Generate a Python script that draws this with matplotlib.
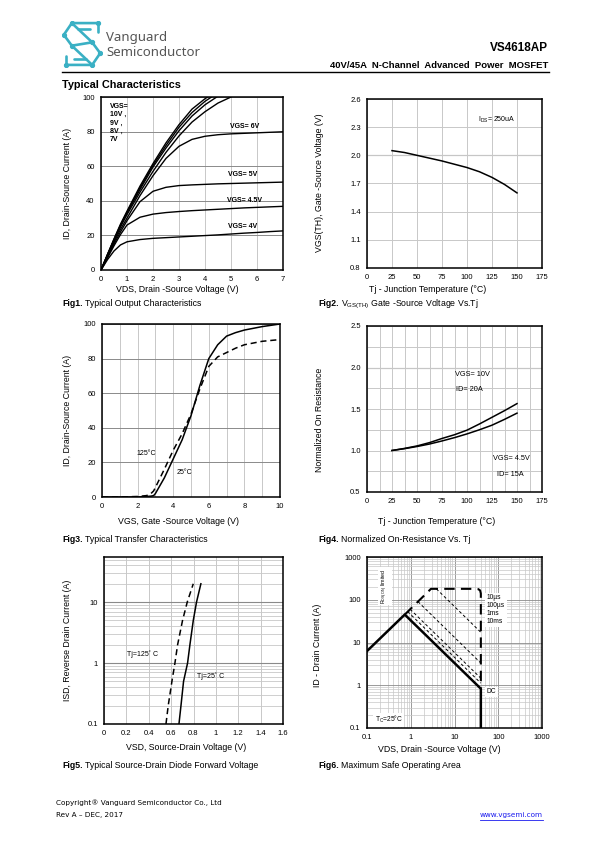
import matplotlib
matplotlib.use('Agg')
import matplotlib.pyplot as plt
from matplotlib.lines import Line2D

plt.rcParams['font.family'] = ['Liberation Sans', 'DejaVu Sans']
NARROW = ['Liberation Sans Narrow', 'Liberation Sans', 'DejaVu Sans']

# ---- Fig1 output characteristics ----
vds_out = [0, 0.25, 0.5, 0.75, 1, 1.5, 2, 2.5, 3, 3.5, 4, 4.5, 5, 5.5, 6, 6.5, 7]
vds_10v = [0, 0.25, 0.5, 0.75, 1, 1.5, 2, 2.5, 3, 3.5, 4, 4.1]
id_10v = [0, 9, 18, 26.5, 34, 48.5, 61.5, 73.5, 84, 93, 99, 100]
vds_9v = [0, 0.25, 0.5, 0.75, 1, 1.5, 2, 2.5, 3, 3.5, 4, 4.25]
id_9v = [0, 9, 17.5, 26, 33.5, 47.5, 60.5, 72, 82.5, 91, 97.5, 100]
vds_8v = [0, 0.25, 0.5, 0.75, 1, 1.5, 2, 2.5, 3, 3.5, 4, 4.45]
id_8v = [0, 8.8, 17.5, 25.5, 33, 46.5, 59.5, 70.5, 80.5, 89, 95.5, 100]
vds_7v = [0, 0.25, 0.5, 0.75, 1, 1.5, 2, 2.5, 3, 3.5, 4, 4.5, 5]
id_7v = [0, 8.5, 17, 25, 32, 45, 57, 68, 77.5, 85.5, 91.5, 96.5, 100]
id_6v = [0, 8, 16, 23.5, 30, 43, 54.5, 64.5, 71.5, 75.5, 77.3, 78.2, 78.7, 79, 79.3, 79.6, 79.9]
id_5v = [0, 7.5, 15, 22, 28.5, 39.5, 45.5, 47.8, 48.8, 49.2, 49.5, 49.8, 50, 50.2, 50.4, 50.6, 50.8]
id_45v = [0, 7, 14, 20.5, 26, 30.5, 32.3, 33.2, 33.8, 34.3, 34.7, 35.1, 35.5, 35.9, 36.2, 36.5, 36.8]
id_4v = [0, 6, 11, 14.5, 16.3, 17.6, 18.3, 18.7, 19.1, 19.5, 19.9, 20.3, 20.8, 21.3, 21.7, 22.2, 22.6]

# ---- Fig2 threshold voltage vs Tj ----
tj = [25, 37.5, 50, 62.5, 75, 87.5, 100, 112.5, 125, 137.5, 150]
vth = [2.05, 2.03, 2.0, 1.97, 1.94, 1.905, 1.87, 1.825, 1.765, 1.69, 1.60]

# ---- Fig3 transfer characteristics ----
vgs_tr = [0, 1, 2, 2.5, 2.75, 2.9, 3.0, 3.5, 4, 4.5, 5, 5.5, 6, 6.5, 7, 7.5, 8, 9, 10]
id_25c = [0, 0, 0, 0.3, 0.5, 0.8, 2, 11, 22, 33, 47, 64.5, 80, 88, 93, 95, 96.5, 98.5, 100]
id_125c = [0, 0, 0.3, 0.8, 2, 3.5, 5.5, 16, 27, 36.5, 48, 62.5, 75.5, 81, 83.5, 86, 88, 90, 91]

# ---- Fig4 normalized on-resistance ----
rds_10v = [1.0, 1.025, 1.055, 1.095, 1.145, 1.19, 1.245, 1.32, 1.40, 1.48, 1.565]
rds_45v = [1.0, 1.022, 1.048, 1.078, 1.115, 1.155, 1.2, 1.25, 1.305, 1.375, 1.45]

# ---- Fig5 body diode ----
isd = [0.1, 0.2, 0.5, 1, 2, 5, 10, 20]
vsd_25c = [0.67, 0.688, 0.711, 0.747, 0.768, 0.798, 0.827, 0.866]
vsd_125c = [0.554, 0.574, 0.607, 0.634, 0.658, 0.702, 0.744, 0.798]

# ---- Fig6 SOA ----
soa_dc_v = [0.1, 0.73, 40, 40]
soa_dc_i = [6.3, 45, 0.83, 0.1]
soa_env_v = [0.73, 2.9, 30, 35, 38.5, 40, 40]
soa_env_i = [45, 180, 180, 177, 165, 140, 0.83]
soa_pulse_v = {'10us': [3.85, 40], '100us': [1.46, 40], '1ms': [0.97, 40], '10ms': [0.85, 40]}
soa_pulse_i = {'10us': [180, 17.3], '100us': [90.5, 3.3], '1ms': [60, 1.46], '10ms': [53, 1.12]}

W, H = 595, 842
fig = plt.figure(figsize=(W / 100, H / 100), dpi=100)
rend = fig.canvas.get_renderer()


def fx(px):
    return px / W


def fy(py):
    return 1 - py / H


def ftext(px, py, s, **kw):
    return fig.text(fx(px), fy(py), s, **kw)


def caption(px, py, head, rest):
    t = ftext(px, py, head, fontsize=6.3, fontweight='bold', va='center')
    x1 = t.get_window_extent(rend).x1
    ftext(x1 + 2.5, py, rest, fontsize=6.3, va='center')


def panel(l, t, r, b):
    ax = fig.add_axes([fx(l), fy(b), (r - l) / W, (b - t) / H])
    for s in ax.spines.values():
        s.set_linewidth(1.1)
    ax.tick_params(which='both', length=0, pad=4.5, labelsize=5.5)
    ax.set_axisbelow(True)
    return ax


def narrow(ax):
    for t in ax.get_xticklabels() + ax.get_yticklabels():
        t.set_family(NARROW)


LIGHT = '#c8c8c8'
DARK = '#8a8a8a'

# ---------------- header ----------------
teal = '#3ab0c4'
lax = fig.add_axes([fx(62), fy(67), 40 / W, 46 / H])
lax.set_xlim(-0.05, 1.05)
lax.set_ylim(-0.05, 1.05)
lax.axis('off')
logo = [
    [(0.95, 1.0), (0.22, 1.0), (0.0, 0.72), (0.22, 0.46)],
    [(0.05, 0.0), (0.78, 0.0), (1.0, 0.28), (0.78, 0.54)],
    [(0.22, 1.0), (0.78, 0.54), (0.22, 0.46)],
    [(0.78, 0.0), (0.22, 0.46)],
    [(0.95, 1.0), (0.95, 0.78)],
    [(0.05, 0.0), (0.05, 0.22)],
    [(0.38, 0.86), (0.72, 0.86)],
    [(0.28, 0.14), (0.62, 0.14)],
]
for pts in logo:
    xs, ys = zip(*pts)
    lax.plot(xs, ys, color=teal, lw=1.9, solid_capstyle='round')
dots = [(0.95, 1.0), (0.22, 1.0), (0.0, 0.72), (0.22, 0.46), (0.05, 0.0),
        (0.78, 0.0), (1.0, 0.28), (0.78, 0.54)]
lax.plot(*zip(*dots), 'o', color=teal, ms=2.8)

ftext(106, 37, 'Vanguard', fontsize=9.5, family=['Noto Sans', 'DejaVu Sans'],
      color='#555555', va='center')
ftext(106, 53, 'Semiconductor', fontsize=9.5, family=['Noto Sans', 'DejaVu Sans'],
      color='#555555', va='center')
ftext(548, 48, 'VS4618AP', fontsize=8.5, fontweight='bold', ha='right', va='center')
ftext(548, 65, '40V/45A  N-Channel  Advanced  Power  MOSFET', fontsize=6.8,
      fontweight='bold', ha='right', va='center')
fig.add_artist(Line2D([fx(62), fx(549)], [fy(71.5), fy(71.5)], color='black', lw=1.0))
ftext(62, 85, 'Typical Characteristics', fontsize=7.8, fontweight='bold', va='center')

# ---------------- Fig1 ----------------
ax1 = panel(101, 97, 283, 270)
ax1.set_xlim(0, 7)
ax1.set_ylim(0, 100)
ax1.set_xticks(range(0, 8))
ax1.set_yticks(range(0, 101, 20))
ax1.xaxis.grid(True, color=LIGHT, lw=0.7)
ax1.yaxis.grid(True, color=DARK, lw=0.7)
for xs, ys in [(vds_10v, id_10v), (vds_9v, id_9v), (vds_8v, id_8v), (vds_7v, id_7v),
               (vds_out, id_6v), (vds_out, id_5v), (vds_out, id_45v), (vds_out, id_4v)]:
    ax1.plot(xs, ys, color='black', lw=1.0)
narrow(ax1)
lbl = dict(fontsize=5, fontweight='bold', family=NARROW, va='center')
ax1.text(0.33, 85, 'VGS=\n10V ,\n9V ,\n8V ,\n7V', linespacing=1.25, **lbl)
ax1.text(4.95, 82.7, 'VGS= 6V', **lbl)
ax1.text(4.9, 55.3, 'VGS= 5V', **lbl)
ax1.text(4.85, 40.3, 'VGS= 4.5V', **lbl)
ax1.text(4.9, 25.0, 'VGS= 4V', **lbl)
ftext(67, 183, 'ID, Drain-Source Current (A)', rotation=90, fontsize=6.3, ha='center', va='center')
ftext(177, 290, 'VDS, Drain -Source Voltage (V)', fontsize=6.3, ha='center', va='center')
caption(62, 304, 'Fig1.', 'Typical Output Characteristics')

# ---------------- Fig2 ----------------
ax2 = panel(367, 99, 542, 268)
ax2.set_xlim(0, 175)
ax2.set_ylim(0.8, 2.6)
ax2.set_xticks(range(0, 176, 25))
ax2.set_yticks([0.8, 1.1, 1.4, 1.7, 2.0, 2.3, 2.6])
ax2.set_yticklabels(['0.8', '1.1', '1.4', '1.7', '2.0', '2.3', '2.6'])
ax2.grid(True, color=LIGHT, lw=0.7)
ax2.axhline(2.0, color=DARK, lw=0.8, zorder=0.5)
ax2.plot(tj, vth, color='black', lw=1.1)
narrow(ax2)
ax2.text(111, 2.375, 'I$_{\\mathregular{DS}}$= 250uA', fontsize=5, family=NARROW, va='center')
ftext(320, 183, 'VGS(TH), Gate -Source Voltage (V)', rotation=90, fontsize=6.3, ha='center', va='center')
ftext(428, 290, 'Tj - Junction Temperature (\u00b0C)', fontsize=6.3, ha='center', va='center')
caption(318, 304, 'Fig2.', 'V$_{\\mathregular{GS(TH)}}$ Gate -Source Voltage Vs.Tj')

# ---------------- Fig3 ----------------
ax3 = panel(102, 324, 280, 497)
ax3.set_xlim(0, 10)
ax3.set_ylim(0, 100)
ax3.set_xticks(range(0, 11), ['0', '', '2', '', '4', '', '6', '', '8', '', '10'])
ax3.set_yticks(range(0, 101, 20))
ax3.xaxis.grid(True, color=LIGHT, lw=0.7)
ax3.yaxis.grid(True, color=DARK, lw=0.7)
ax3.plot(vgs_tr, id_25c, color='black', lw=1.1)
ax3.plot(vgs_tr, id_125c, color='black', lw=1.1, ls=(0, (4, 2.5)))
narrow(ax3)
ax3.text(1.95, 25.4, '125\u00b0C', fontsize=5, family=NARROW, va='center')
ax3.text(4.2, 14.0, '25\u00b0C', fontsize=5, family=NARROW, va='center')
ftext(67, 410, 'ID, Drain-Source Current (A)', rotation=90, fontsize=6.3, ha='center', va='center')
ftext(178, 521, 'VGS, Gate -Source Voltage (V)', fontsize=6.3, ha='center', va='center')
caption(62, 539, 'Fig3.', 'Typical Transfer Characteristics')

# ---------------- Fig4 ----------------
ax4 = panel(367, 326, 542, 492)
ax4.set_xlim(0, 175)
ax4.set_ylim(0.5, 2.5)
ax4.set_xticks(range(0, 176, 25))
ax4.set_yticks([0.5, 1.0, 1.5, 2.0, 2.5])
ax4.set_yticklabels(['0.5', '1.0', '1.5', '2.0', '2.5'])
ax4.set_xticks([12.5 + 25 * k for k in range(7)], minor=True)
ax4.set_yticks([0.75, 1.25, 1.75, 2.25], minor=True)
ax4.grid(True, which='both', color=LIGHT, lw=0.7)
ax4.axhline(2.0, color=DARK, lw=0.8, zorder=0.5)
ax4.plot(tj, rds_10v, color='black', lw=1.1)
ax4.plot(tj, rds_45v, color='black', lw=1.1)
narrow(ax4)
lb4 = dict(fontsize=5.3, family=NARROW, va='center')
ax4.text(88, 1.91, 'VGS= 10V', **lb4)
ax4.text(89, 1.73, 'ID= 20A', **lb4)
ax4.text(126, 0.90, 'VGS= 4.5V', **lb4)
ax4.text(130, 0.71, 'ID= 15A', **lb4)
ftext(320, 420, 'Normalized On Resistance', rotation=90, fontsize=6.3, ha='center', va='center')
ftext(437, 521, 'Tj - Junction Temperature (\u00b0C)', fontsize=6.3, ha='center', va='center')
caption(318, 539, 'Fig4.', 'Normalized On-Resistance Vs. Tj')

# ---------------- Fig5 ----------------
ax5 = panel(104, 557, 283, 724)
ax5.set_yscale('log')
ax5.set_xlim(0, 1.6)
ax5.set_ylim(0.1, 55)
ax5.set_xticks([0.2 * k for k in range(9)], ['0', '0.2', '0.4', '0.6', '0.8', '1', '1.2', '1.4', '1.6'])
ax5.set_yticks([0.1, 1, 10], ['0.1', '1', '10'])
ax5.set_yticks([m * d for d in (0.1, 1, 10) for m in range(2, 10) if m * d < 55], minor=True)
ax5.yaxis.set_minor_formatter(plt.NullFormatter())
ax5.xaxis.grid(True, color=LIGHT, lw=0.7)
ax5.yaxis.grid(True, which='minor', color=LIGHT, lw=0.6)
ax5.yaxis.grid(True, which='major', color=DARK, lw=0.8)
ax5.plot(vsd_25c, isd, color='black', lw=1.1)
ax5.plot(vsd_125c, isd, color='black', lw=1.1, ls=(0, (4, 2.5)))
narrow(ax5)
ax5.text(0.21, 1.38, 'Tj=125\u02da C', fontsize=5, family=NARROW, va='center')
ax5.text(0.83, 0.6, 'Tj=25\u02da C', fontsize=5, family=NARROW, va='center')
ftext(67, 640, 'ISD, Reverse Drain Current (A)', rotation=90, fontsize=6.3, ha='center', va='center')
ftext(186, 747, 'VSD, Source-Drain Voltage (V)', fontsize=6.3, ha='center', va='center')
caption(62, 766, 'Fig5.', 'Typical Source-Drain Diode Forward Voltage')

# ---------------- Fig6 ----------------
ax6 = panel(367, 557, 542, 728)
ax6.set_xscale('log')
ax6.set_yscale('log')
ax6.set_xlim(0.1, 1000)
ax6.set_ylim(0.1, 1000)
dec = [0.1, 1, 10, 100, 1000]
declab = ['0.1', '1', '10', '100', '1000']
ax6.set_xticks(dec, declab)
ax6.set_yticks(dec, declab)
minor = [m * d for d in dec[:-1] for m in range(2, 10)]
ax6.set_xticks(minor, minor=True)
ax6.set_yticks(minor, minor=True)
ax6.xaxis.set_minor_formatter(plt.NullFormatter())
ax6.yaxis.set_minor_formatter(plt.NullFormatter())
ax6.grid(True, which='minor', color=LIGHT, lw=0.5)
ax6.grid(True, which='major', color=DARK, lw=0.6)
ax6.plot(soa_env_v, soa_env_i, color='black', lw=1.5, ls=(0, (5, 3)))
for k in ['10us', '100us', '1ms', '10ms']:
    ax6.plot(soa_pulse_v[k], soa_pulse_i[k], color='black', lw=0.7, ls=(0, (3, 2.5)))
ax6.plot(soa_dc_v, soa_dc_i, color='black', lw=1.8)
narrow(ax6)
wb = dict(facecolor='white', edgecolor='none', pad=1.2)
ax6.text(0.26, 210, 'R$_{\\mathregular{DS(ON)}}$ limited', rotation=90, fontsize=3.8,
         family=NARROW, ha='center', va='center', bbox=wb)
ax6.text(55, 135, '10\u00b5s\n100\u00b5s\n1ms\n10ms', fontsize=4.8, family=NARROW,
         va='top', linespacing=1.2, bbox=wb)
ax6.text(55, 0.7, 'DC', fontsize=4.8, family=NARROW, va='center', bbox=wb)
ax6.text(0.15, 0.155, 'T$_{\\mathregular{C}}$=25\u00b0C', fontsize=4.8, family=NARROW,
         va='center', bbox=wb)
ftext(318, 645, 'ID - Drain Current (A)', rotation=90, fontsize=6.3, ha='center', va='center')
ftext(439, 749, 'VDS, Drain -Source Voltage (V)', fontsize=6.3, ha='center', va='center')
caption(318, 766, 'Fig6.', 'Maximum Safe Operating Area')

# ---------------- footer ----------------
foot = dict(fontsize=5.2, family=['DejaVu Sans'], va='center')
ftext(56, 803, 'Copyright\u00ae Vanguard Semiconductor Co., Ltd', **foot)
ftext(56, 815, 'Rev A \u2013 DEC, 2017', **foot)
url = ftext(543, 815, 'www.vgsemi.com', color='#1a1aee', ha='right', **foot)
bb = url.get_window_extent(rend)
fig.add_artist(Line2D([bb.x0 / W, bb.x1 / W], [fy(819.5), fy(819.5)], color='#1a1aee', lw=0.6))

fig.savefig('out.png', dpi=100)
